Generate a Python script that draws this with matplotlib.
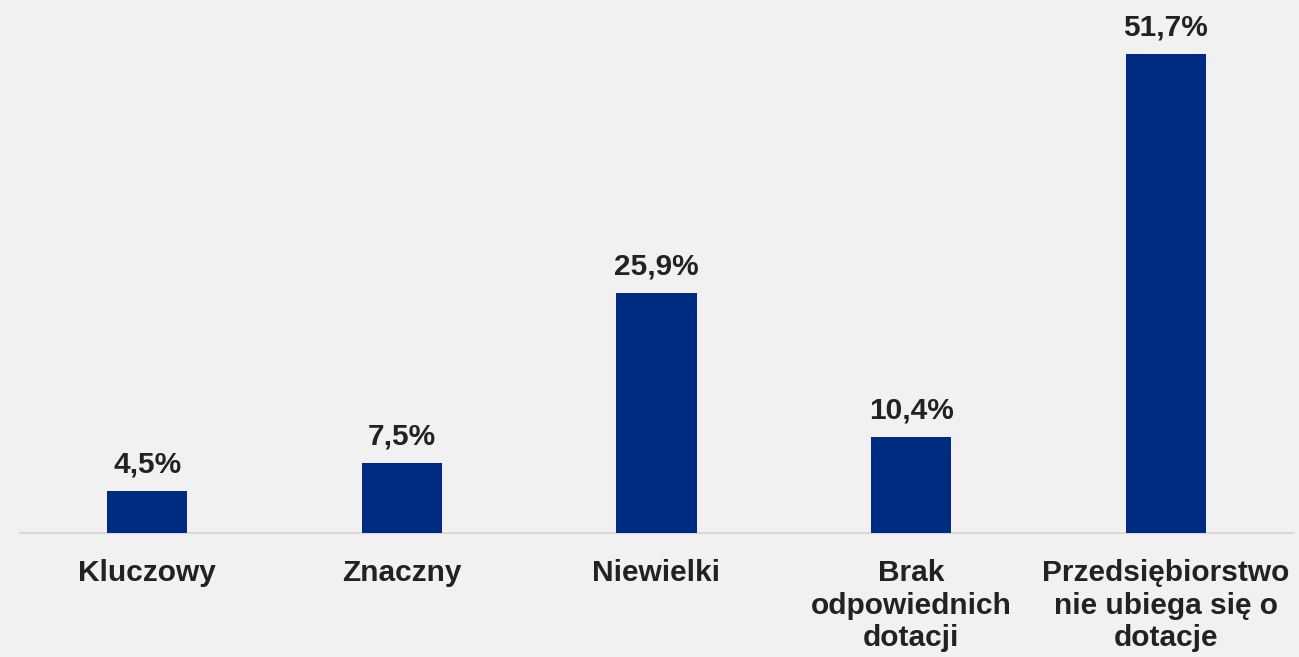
import matplotlib.pyplot as plt
import numpy as np

# Chart data
categories = ["Kluczowy", "Znaczny", "Niewielki",
              "Brak\nodpowiednich\ndotacji",
              "Przedsiębiorstwo\nnie ubiega się o\ndotacje"]
values = [4.5, 7.5, 25.9, 10.4, 51.7]
value_labels = ["4,5%", "7,5%", "25,9%", "10,4%", "51,7%"]

bg = "#F1F1F1"
bar_color = "#002B83"
text_color = "#222222"

plt.rcParams['font.family'] = ['Liberation Sans', 'DejaVu Sans']

fig = plt.figure(figsize=(12.99, 6.57), dpi=100, facecolor=bg)
ax = fig.add_axes([20/1299, 124/657, 1273/1299, 1 - 124/657])
ax.set_facecolor(bg)

x = np.arange(len(categories))
bars = ax.bar(x, values, width=0.315, color=bar_color, zorder=3)

ax.set_xlim(-0.5, len(categories) - 0.5)
ax.set_ylim(0, 57.5)

for rect, lab in zip(bars, value_labels):
    ax.annotate(lab, (rect.get_x() + rect.get_width()/2, rect.get_height()),
                xytext=(0, 9), textcoords="offset points",
                ha="center", va="bottom", fontsize=21.5, fontweight="bold",
                color=text_color)

ax.set_xticks(x)
ax.set_xticklabels(categories, fontsize=21.5, fontweight="bold",
                   color=text_color, linespacing=1.2, va="top")
ax.tick_params(axis="x", length=0, pad=19)
ax.set_yticks([])

for s in ["top", "right", "left"]:
    ax.spines[s].set_visible(False)
ax.spines["bottom"].set_color("#D9D9D9")
ax.spines["bottom"].set_linewidth(1.5)

fig.savefig("out.png", dpi=100, facecolor=bg)
